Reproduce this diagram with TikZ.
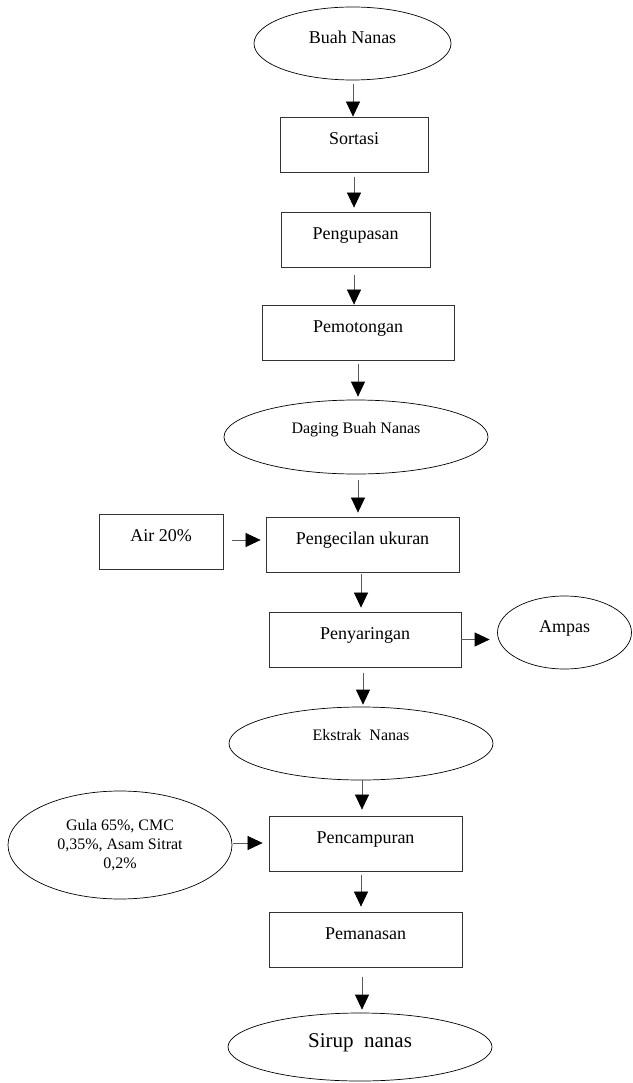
\documentclass[tikz,border=0pt]{standalone}
\usepackage{fontspec}
\setmainfont{Liberation Serif}
\usetikzlibrary{arrows.meta,shapes.geometric}
\tikzset{
  box/.style={draw=black!80, line width=0.8pt, rectangle, inner sep=3pt,
    font=\fontsize{18}{21.6}\selectfont, text height=12pt, text depth=12pt},
  oval/.style={draw=black, line width=0.7pt, ellipse, inner sep=1pt,
    font=\fontsize{18}{21.6}\selectfont, text height=12pt, text depth=12pt},
  ovalsmall/.style={oval, font=\fontsize{16}{19}\selectfont, text height=11pt, text depth=18pt},
  arr/.style={draw=black!65, line width=0.7pt, -{Triangle[length=15pt,width=14pt,fill=black,color=black]}}
}
\begin{document}
\begin{tikzpicture}[x=1pt,y=-1pt]
\useasboundingbox (0,0) rectangle (632,1083);
% nodes
\node[oval, minimum width=197pt, minimum height=73pt] (bn) at (352.5,43.5) {Buah Nanas};
\node[box, minimum width=148pt, minimum height=55pt] (so) at (354,144.5) {Sortasi};
\node[box, minimum width=149pt, minimum height=55pt] (pg) at (355.5,239.5) {Pengupasan};
\node[box, minimum width=192pt, minimum height=55pt] (pt) at (358,332.5) {Pemotongan};
\node[ovalsmall, minimum width=264pt, minimum height=74pt] (db) at (356,437) {Daging Buah Nanas};
\node[box, minimum width=124pt, minimum height=55pt] (air) at (161,541.5) {Air 20\%};
\node[box, minimum width=193pt, minimum height=55pt] (pu) at (362.5,544.5) {Pengecilan ukuran};
\node[box, minimum width=192pt, minimum height=55pt] (py) at (365,639.5) {Penyaringan};
\node[oval, minimum width=134pt, minimum height=73pt] (am) at (564.5,632.5) {Ampas};
\node[ovalsmall, minimum width=264pt, minimum height=73pt] (en) at (361,743.5) {Ekstrak\ \ Nanas};
\node[box, minimum width=193pt, minimum height=55pt] (pc) at (365.5,843.5) {Pencampuran};
\node[draw=black, line width=0.7pt, ellipse, inner sep=1pt, minimum width=224pt, minimum height=108pt,
  align=center, font=\fontsize{16}{18.7}\selectfont] (gl) at (120,845) {Gula 65\%, CMC\\0,35\%, Asam Sitrat\\0,2\%};
\node[box, minimum width=193pt, minimum height=55pt] (pm) at (365.5,939.5) {Pemanasan};
\node[oval, minimum width=264pt, minimum height=68pt, font=\fontsize{21}{25}\selectfont,
  text height=14pt, text depth=14pt] (sn) at (360,1047) {Sirup\ \ nanas};
% vertical connectors
\draw[arr, shorten <=4pt] ([xshift=0.5pt]bn.south) -- ([xshift=0.5pt]bn.south |- so.north);
\draw[arr, shorten <=5pt, shorten >=4pt] (so.south) -- (so.south |- pg.north);
\draw[arr, shorten <=8pt] ([xshift=-1.5pt]pg.south) -- ([xshift=-1.5pt]pg.south |- pt.north);
\draw[arr, shorten <=4pt, shorten >=3pt] (pt.south) -- (pt.south |- db.north);
\draw[arr, shorten <=6pt, shorten >=4pt] ([xshift=2pt]db.south) -- ([xshift=2pt]db.south |- pu.north);
\draw[arr, shorten <=2pt, shorten >=4pt] ([xshift=-1.5pt]pu.south) -- ([xshift=-1.5pt]pu.south |- py.north);
\draw[arr, shorten <=6pt, shorten >=2pt] ([xshift=-2pt]py.south) -- ([xshift=-2pt]py.south |- en.north);
\draw[arr, shorten <=0pt, shorten >=6pt] ([xshift=1pt]en.south) -- ([xshift=1pt]en.south |- pc.north);
\draw[arr, shorten <=4pt, shorten >=5pt] ([xshift=-4.5pt]pc.south) -- ([xshift=-4.5pt]pc.south |- pm.north);
\draw[arr, shorten <=10pt, shorten >=3pt] ([xshift=-3.5pt]pm.south) -- ([xshift=-3.5pt]pm.south |- sn.north);
% side connectors
\draw[arr, shorten <=9pt, shorten >=5pt] ([yshift=1.5pt]air.east) -- ([yshift=1.5pt]air.east -| pu.west);
\draw[arr, shorten >=7.5pt] (py.east) -- (py.east -| am.west);
\draw[arr, shorten <=1pt, shorten >=6pt] ([yshift=2pt]gl.east) -- ([yshift=2pt]gl.east -| pc.west);
\end{tikzpicture}
\end{document}
